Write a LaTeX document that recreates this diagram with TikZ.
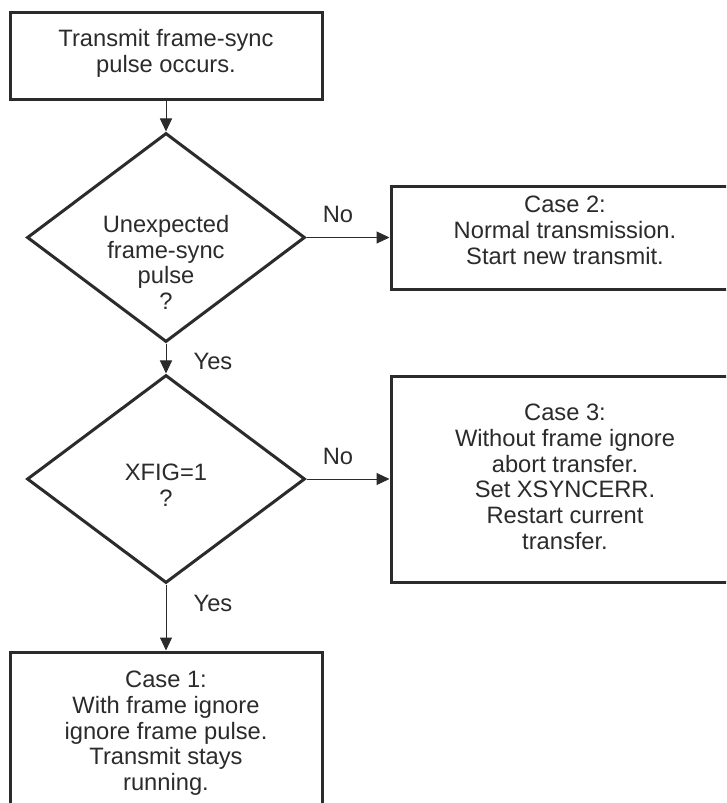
\documentclass[tikz,border=0pt]{standalone}
\usepackage{fontspec}
\setmainfont{Liberation Sans}
\usetikzlibrary{shapes.geometric,arrows.meta}
\definecolor{ink}{HTML}{2B2B2B}
\begin{document}
\begin{tikzpicture}[x=1pt,y=-1pt,
  shapebox/.style={draw=ink,line width=3pt,rectangle,inner sep=0pt},
  decision/.style={draw=ink,line width=3pt,diamond,inner sep=0pt,minimum width=278pt},
  txt/.style={text=ink,align=center,inner sep=0pt,font=\fontsize{23.7}{25.7}\selectfont},
  arr/.style={draw=ink,line width=1pt,-{Triangle[length=13pt,width=12pt]}}]
\useasboundingbox (0,0) rectangle (726,803);
\clip (0,0) rectangle (726,803);
\fill[white] (0,0) rectangle (726,803);
% shapes
\node[shapebox,minimum width=312pt,minimum height=87pt] (start) at (166,55.5) {};
\node[decision,minimum height=209pt] (d1) at (166,237.5) {};
\node[decision,minimum height=208pt] (d2) at (166,479) {};
\node[shapebox,minimum width=348pt,minimum height=103pt] (case2) at (565,237.5) {};
\node[shapebox,minimum width=348pt,minimum height=206pt] (case3) at (565,479) {};
\node[shapebox,minimum width=312pt,minimum height=188pt] (case1) at (166,746) {};
% texts
\node[txt,anchor=north] (tstart) at (166,29) {Transmit frame-sync\\pulse occurs.};
\node[txt,anchor=north] (td1) at (166,215) {Unexpected\\frame-sync\\pulse\\?};
\node[txt,anchor=north] (td2) at (166,464) {XFIG=1\\?};
\node[txt,anchor=north] (tcase2) at (565,196) {Case 2:\\Normal transmission.\\Start new transmit.};
\node[txt,anchor=north] (tcase3) at (565,404) {Case 3:\\Without frame ignore\\abort transfer.\\Set XSYNCERR.\\Restart current\\transfer.};
\node[txt,anchor=north] (tcase1) at (166,671) {Case 1:\\With frame ignore\\ignore frame pulse.\\Transmit stays\\running.};
% connectors
\draw[arr] (start) -- (d1);
\draw[arr] (d1.east) -- (case2.west);
\draw[arr] (d1) -- (d2);
\draw[arr] (d2.east) -- (case3.west);
\draw[arr] (d2) -- (case1);
% labels
\node[txt,anchor=base] (no1) at (338,222) {No};
\node[txt,anchor=base] (no2) at (338,464) {No};
\node[txt,anchor=base] (yes1) at (213,369) {Yes};
\node[txt,anchor=base] (yes2) at (213,611) {Yes};
\end{tikzpicture}
\end{document}
